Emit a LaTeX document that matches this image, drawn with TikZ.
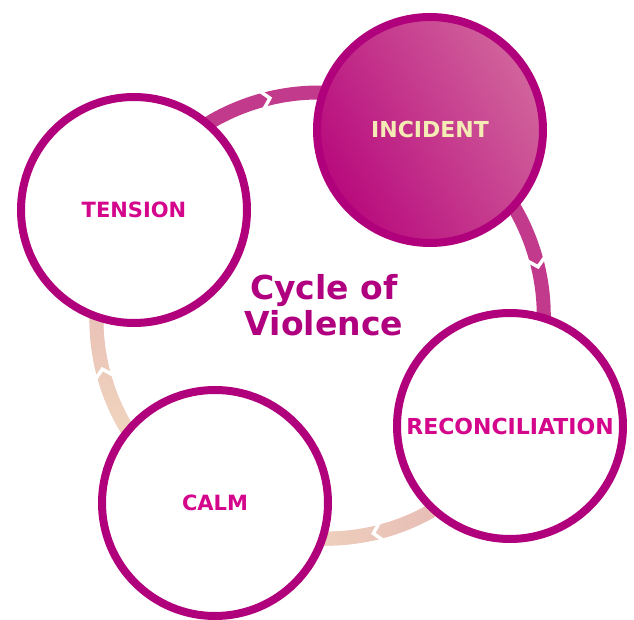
\documentclass[tikz,border=0pt]{standalone}
\usepackage{fontspec}
\setmainfont{DejaVu Sans}
\usetikzlibrary{backgrounds,decorations.markings,fadings}

\definecolor{rim}{HTML}{B1007B}
\definecolor{labelpink}{HTML}{D4068C}
\definecolor{titlepink}{HTML}{B0007F}
\definecolor{cream}{HTML}{F4ECB4}
\definecolor{incdark}{HTML}{B80A7D}
\definecolor{inclight}{HTML}{D1649C}
\definecolor{arcmag}{HTML}{C23A8B}
\definecolor{arcrose}{HTML}{E4B2B2}
\definecolor{arcsand}{HTML}{F4E0C2}

\tikzfading[name=sandleft, left color=transparent!0, right color=transparent!100]
\tikzfading[name=sandlow, bottom color=transparent!0, top color=transparent!100]

\tikzset{
    stage/.style={circle, draw=rim, line width=8pt, fill=white, minimum size=226pt,
        inner sep=0pt, text=labelpink, font=\bfseries\fontsize{21}{21}\selectfont},
    ring/.style={line width=14pt},
    notch/.style={decorate, decoration={markings, mark=at position 0.52 with
        {\draw[white, line width=3.5pt] (-9pt,10pt) -- (0pt,0pt) -- (-9pt,-10pt);}}}
}

\begin{document}
\begin{tikzpicture}[x=1pt, y=1pt]
    \useasboundingbox (0,0) rectangle (634,620);

    % stages
    \node[stage] (tension) at (134,410) {TENSION};
    \node[stage, top color=inclight, bottom color=incdark, shading angle=-60,
        text=cream, font=\bfseries\fontsize{22}{22}\selectfont] (incident) at (430,490) {INCIDENT};
    \node[stage, font=\bfseries\fontsize{22}{22}\selectfont] (reconcil) at (510,194) {RECONCILIATION};
    \node[stage] (calm) at (215,117) {CALM};

    \node[text=titlepink, align=center, font=\bfseries\fontsize{33}{36}\selectfont]
        (title) at (324,315) {Cycle of\\Violence};

    % ring behind the stages
    \begin{scope}[on background layer]
        \draw[ring, arcmag] (tension.center) to[bend left=54] (incident.center);
        \path[notch] (tension.center) to[bend left=54] (incident.center);

        \draw[ring, arcmag] (incident.center) to[bend left=50] (reconcil.center);
        \path[notch] (incident.center) to[bend left=50] (reconcil.center);

        \draw[ring, arcrose] (reconcil.center) to[bend left=51] (calm.center);
        \draw[ring, arcsand, path fading=sandleft] (reconcil.center) to[bend left=51] (calm.center);
        \path[notch] (reconcil.center) to[bend left=51] (calm.center);

        \draw[ring, arcrose] (calm.center) to[bend left=55] (tension.center);
        \draw[ring, arcsand, path fading=sandlow] (calm.center) to[bend left=55] (tension.center);
        \path[notch] (calm.center) to[bend left=55] (tension.center);
    \end{scope}
\end{tikzpicture}
\end{document}
